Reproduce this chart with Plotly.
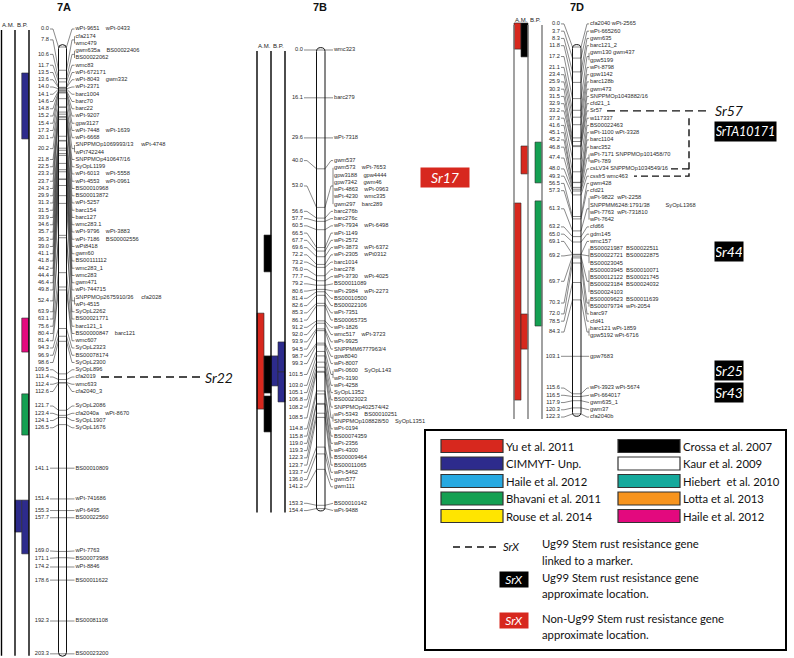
import plotly.graph_objects as go

W, H = 794, 658
GAP_PX = 7.25

# ---------------- chromosome 7A ----------------
pos_7A = [0.0, 7.8, 10.6, 11.7, 13.5, 13.6, 14.0, 14.1, 14.6, 14.8, 15.2, 15.4, 17.3, 20.1, 20.2,
          21.8, 22.5, 23.3, 23.7, 24.3, 29.9, 31.3, 31.5, 33.9, 34.6, 35.7, 36.3, 39.0, 41.1, 41.8,
          44.2, 44.4, 46.4, 49.8, 52.4, 63.9, 63.1, 75.6, 80.4, 81.4, 94.3, 96.9, 98.6, 109.5,
          111.4, 112.4, 112.6, 121.7, 123.4, 124.1, 126.5, 141.1, 151.4, 155.3, 157.7, 169.0,
          171.1, 174.2, 178.6, 192.3, 203.3]
rows_7A = [["wPt-9651    wPt-0433"], ["cfa2174", "wmc479"], ["gwm635a    BS00022406", "BS00022062"],
           ["wmc83"], ["wPt-672171"], ["wPt-8043    gwm332"], ["wPt-2371"], ["barc1004"], ["barc70"],
           ["barc22"], ["wPt-9207"], ["gpw3127"], ["wPt-7448    wPt-1639"], ["wPt-6668"],
           ["SNPPMOp1069993/13     wPt-4748", "wPt742244"], ["SNPPMOp410647/16"], ["SyOpL1199"],
           ["wPt-6013    wPt-5558"], ["wPt-4553    wPt-0961"], ["BS00010968"], ["BS00013872"],
           ["wPt-5257"], ["barc154"], ["barc127"], ["wmc283.1"], ["wPt-9796    wPt-3883"],
           ["wPt-7186    BS00002556"], ["wPt8418"], ["gwm60"], ["BS00111112"], ["wmc283_1"],
           ["wmc283"], ["gwm471"], ["wPt-744715"], ["SNPPMOp2675910/36     cfa2028", "wPt-4515"],
           ["SyOpL2262"], ["BS00021771"], ["barc121_1"], ["BS00000847    barc121"], ["wmc607"],
           ["SyOpL2323"], ["BS00078174"], ["SyOpL2300"], ["SyOpL896"], ["cfa2019"], ["wmc633"],
           ["cfa2040_3"], ["SyOpL2086"], ["cfa2040a    wPt-8670"], ["SyOpL1907"], ["SyOpL1676"],
           ["BS00010809"], ["wPt-741686"], ["wPt-6495"], ["BS00022560"], ["wPt-7763"],
           ["BS00073988"], ["wPt-8846"], ["BS00011622"], ["BS00081108"], ["BS00023200"]]
# (column, sub-column, start cM, end cM, source)
bars_7A = [("B.P.", 1, 8.7, 30.8, "cimmyt"), ("B.P.", 1, 90.8, 102.2, "haile_m"),
           ("B.P.", 1, 116.2, 130.0, "bhavani"), ("B.P.", 0, 151.8, 162.5, "cimmyt"),
           ("B.P.", 1, 151.8, 169.8, "cimmyt")]

# ---------------- chromosome 7B ----------------
pos_7B = [0.0, 16.1, 29.6, 40.0, 53.0, 56.6, 57.7, 60.5, 66.5, 67.7, 69.6, 72.2, 73.2, 76.0, 77.7,
          79.2, 80.6, 81.4, 82.6, 85.3, 86.1, 91.2, 92.0, 93.9, 94.5, 98.7, 99.3, 101.5, 103.0,
          105.1, 106.8, 108.2, 108.5, 114.8, 115.8, 119.0, 119.3, 122.3, 123.7, 133.7, 136.0,
          141.2, 153.3, 154.4]
rows_7B = [["wmc323"], ["barc279"], ["wPt-7318"], ["gwm537"],
           ["gwm573    wPt-7653", "gpw3188    gpw4444", "gpw7342    gwm46", "wPt-4863    wPt-0963",
            "wPt-4230    wmc335", "gwm297    barc289"],
           ["barc276b"], ["barc276c"], ["wPt-7934    wPt-6498"], ["wPt-1149"], ["wPt-2572"],
           ["wPt-3873    wPt-6372"], ["wPt-2305    wPt0312"], ["barc1014"], ["barc278"],
           ["wPt-3730    wPt-4025"], ["BS00011089"], ["wPt-2984    wPt-2273"], ["BS00010500"],
           ["BS00022106"], ["wPt-7351"], ["BS00065735"], ["wPt-1826"], ["wmc517    wPt-3723"],
           ["wPt-9925"], ["SNPPMM6777963/4"], ["gpw8040"], ["wPt-8007"],
           ["wPt-0600    SyOpL143", "wPt-3190"], ["wPt-4258"], ["SyOpL1352"], ["BS00023023"],
           ["SNPPMOp402574/42"], ["wPt-5343    BS00010251", "SNPPMOp108828/50    SyOpL1351"],
           ["wPt-0194"], ["BS00074359"], ["wPt-2356"], ["wPt-4300"], ["BS00009464"],
           ["BS00011065"], ["wPt-5462"], ["gwm577"], ["gwm111"], ["BS00010142"], ["wPt-9488"]]
bars_7B = [("A.M.", 1, 62.3, 74.7, "crossa"), ("A.M.", 0, 88.6, 120.9, "yu"),
           ("A.M.", 1, 103.0, 115.5, "crossa"), ("A.M.", 1, 116.5, 128.6, "crossa"),
           ("B.P.", 0, 103.0, 113.1, "cimmyt"), ("B.P.", 1, 98.3, 108.4, "cimmyt"),
           ("B.P.", 1, 108.4, 118.5, "cimmyt")]

# ---------------- chromosome 7D ----------------
pos_7D = [0.0, 3.7, 8.3, 11.8, 17.2, 21.1, 23.4, 25.9, 30.3, 31.5, 32.9, 33.2, 37.3, 41.6, 45.1,
          45.2, 46.8, 47.4, 48.0, 49.3, 56.5, 57.3, 61.3, 63.2, 65.0, 69.1, 69.2, 69.7, 70.3,
          72.0, 78.5, 84.3, 103.1, 115.6, 116.5, 117.9, 120.3, 122.3]
rows_7D = [["cfa2040 wPt-2565"], ["wPt-665260"], ["gwm635"], ["barc121_2"],
           ["gwm130 gwm437", "gpw5199"], ["wPt-8798"], ["gpw1142"], ["barc128b"], ["gwm473"],
           ["SNPPMOp1043882/16"], ["cfd21_1"], ["Sr57"], ["w117337"], ["BS00022463"],
           ["wPt-1100 wPt-3328"], ["barc1104"], ["barc352"],
           ["wPt-7171 SNPPMOp101458/70", "wPt-789"], ["csLV34 SNPPMOp1034549/16"],
           ["cssfr5 wmc463"], ["gwm428"], ["cfd21"],
           ["wPt-9822  wPt-2258", "SNPPMM6248:1791/38          SyOpL1368", "wPt-7763  wPt-731810",
            "wPt-7642"],
           ["cfd66"], ["gdm145"], ["wmc157"],
           ["BS00021987  BS00022511", "BS00022721  BS00022875", "BS00023045"],
           ["BS00003945  BS00010071", "BS00012122  BS00021745", "BS00023184  BS00024032",
            "BS00024103"],
           ["BS00009623  BS00011639", "BS00079734  wPt-2054"], ["barc97"], ["cfd41"],
           ["barc121 wPt-1859", "gpw5192 wPt-6716"], ["gpw7683"], ["wPt-3923 wPt-5674"],
           ["wPt-664017"], ["gwm635_1"], ["gwm37"], ["cfa2040b"]]
bars_7D = [("A.M.", 0, -8.0, 0.7, "yu"), ("A.M.", 1, -8.0, 3.3, "crossa"),
           ("A.M.", 1, 33.0, 42.3, "yu"), ("A.M.", 0, 52.0, 117.7, "yu"),
           ("A.M.", 1, 89.0, 100.7, "yu"), ("B.P.", 1, 31.7, 45.3, "bhavani"),
           ("B.P.", 1, 51.3, 93.0, "bhavani")]

# ---------------- stem rust genes ----------------
sr_linked = [("Sr22", "7A", "cfa2019"), ("Sr57", "7D", "Sr57")]
sr_boxes = [("Sr17", "7B", 43.0, "non"), ("SrTA10171", "7D", 28.3, "ug99"),
            ("Sr44", "7D", 68.3, "ug99"), ("Sr25", "7D", 107.7, "ug99"), ("Sr43", "7D", 115.0, "ug99")]

# ---------------- legend ----------------
legend_left = ["Yu et al. 2011", "CIMMYT- Unp.", "Haile et al. 2012", "Bhavani et al. 2011", "Rouse et al. 2014"]
legend_left_keys = ["yu", "cimmyt", "haile_b", "bhavani", "rouse"]
legend_right = ["Crossa et al. 2007", "Kaur et al. 2009", "Hiebert  et al. 2010", "Lotta et al. 2013", "Haile et al. 2012"]
legend_right_keys = ["crossa", "kaur", "hiebert", "lotta", "haile_m"]
colors = {"yu": "#d7281e", "cimmyt": "#2d2b8c", "haile_b": "#27a9e1", "bhavani": "#14a052",
          "rouse": "#ffe500", "crossa": "#000000", "kaur": "#ffffff", "hiebert": "#15a99c",
          "lotta": "#f7941d", "haile_m": "#e3097e"}

NB = "\u00a0"
LBL_FONT = dict(family="Liberation Sans, Arial", size=5.7, color="#2a2a2a")
SR_FONT = "Lato, Open Sans, sans-serif"

geo = {
    "7A": dict(k=2.985, y0=47, ax="y", lab_end=49, bend_l=53, cl=58.5, cr=66.5, bend_r=72,
               txt=75.5, cols=[1.5, 15, 29], colc="#000000", tx=64, label_top=29),
    "7B": dict(k=2.97, y0=50, ax="y2", lab_end=303, bend_l=307, cl=316.5, cr=325, bend_r=331,
               txt=334, cols=[257, 271, 285], colc="#000000", tx=320, label_top=0),
    "7D": dict(k=3.0, y0=47, ax="y3", lab_end=560, bend_l=564, cl=572.5, cr=581, bend_r=587,
               txt=590, cols=[514, 528, 542], colc="#7a7a7a", tx=577, label_top=0),
}
data = {"7A": (pos_7A, rows_7A, bars_7A), "7B": (pos_7B, rows_7B, bars_7B), "7D": (pos_7D, rows_7D, bars_7D)}


def spread(targets, owner, pos, gap, ymin):
    """Merge overlapping labels into clusters centred on the mean of their loci positions."""
    def top_of(s, e):
        grp = sorted(set(owner[s:e + 1]))
        centre = sum(pos[i] for i in grp) / len(grp)
        t = centre - gap * (e - s) / 2
        return max(t, ymin) if s == 0 else t

    clusters = []
    for i, t in enumerate(targets):
        clusters.append([i, i, max(t, ymin) if i == 0 else t])
        while len(clusters) > 1:
            a, b = clusters[-2], clusters[-1]
            a_bot = a[2] + gap * (a[1] - a[0])
            if b[2] < a_bot + gap - 1e-9:
                s, e = a[0], b[1]
                clusters[-2:] = [[s, e, top_of(s, e)]]
            else:
                break
    out = []
    for s, e, top in clusters:
        out += [top + gap * (j - s) for j in range(s, e + 1)]
    return out


fig = go.Figure()
shapes, annotations = [], []
row_lookup = {}

for name, g in geo.items():
    pos, rows, bars = data[name]
    k, ax = g["k"], g["ax"]
    gap = GAP_PX / k
    targets, owner, texts = [], [], []
    for i, (p, rs) in enumerate(zip(pos, rows)):
        for r in rs:
            targets.append(p)
            owner.append(i)
            texts.append(r)
    ry = spread(targets, owner, pos, gap, (g["label_top"] - g["y0"]) / k)
    groups = [[] for _ in pos]
    for j, i in enumerate(owner):
        groups[i].append(j)
        row_lookup[(name, texts[j].split()[0])] = ry[j]
    ly = [sum(ry[j] for j in grp) / len(grp) for grp in groups]

    cx, cy, bx, by = [], [], [], []
    brk = g["txt"] - 1.0
    for i, p in enumerate(pos):
        grp = groups[i]
        cx += [g["lab_end"] + 1, g["bend_l"], g["cl"], None]
        cy += [ly[i], ly[i], p, None]
        bx += [g["cl"], g["cr"], None]
        by += [p, p, None]
        ymid = (ry[grp[0]] + ry[grp[-1]]) / 2
        cx += [g["cr"], g["bend_r"], brk, None]
        cy += [p, ymid, ymid, None]
        if len(grp) > 1:
            cx += [brk, brk, None]
            cy += [ry[grp[0]], ry[grp[-1]], None]
    fig.add_trace(go.Scatter(x=cx, y=cy, mode="lines", yaxis=ax, hoverinfo="skip",
                             line=dict(color="#3a3a3a", width=0.6)))
    fig.add_trace(go.Scatter(x=bx, y=by, mode="lines", yaxis=ax, hoverinfo="skip",
                             line=dict(color="#6a6a6a", width=0.8)))
    fig.add_trace(go.Scatter(x=[g["lab_end"]] * len(pos), y=ly, mode="text", yaxis=ax,
                             text=[f"{p:.1f}" for p in pos], textposition="middle left",
                             textfont=LBL_FONT, hoverinfo="skip"))
    fig.add_trace(go.Scatter(x=[g["txt"]] * len(texts), y=ry, mode="text", yaxis=ax,
                             text=[t.replace(" ", NB) for t in texts], textposition="middle right",
                             textfont=LBL_FONT, hoverinfo="skip"))

    # chromosome outline
    top, bot = min(pos) - 0.8, max(pos) + 0.8
    rr = 1.3
    xl, xr = g["cl"], g["cr"]
    xc = (xl + xr) / 2
    path = (f"M {xl},{top + rr} L {xl},{bot - rr} Q {xl},{bot} {xc},{bot} Q {xr},{bot} {xr},{bot - rr} "
            f"L {xr},{top + rr} Q {xr},{top} {xc},{top} Q {xl},{top} {xl},{top + rr} Z")
    shapes.append(dict(type="path", path=path, xref="x", yref=ax, line=dict(color="#111", width=1)))

    # A.M. / B.P. columns
    ltop = ry[0] + 1.0 / k
    lbot = max(ry[-1], max(pos)) + 2.0 / k
    cols = g["cols"]
    colmap = {"A.M.": cols[0], "B.P.": cols[1]}
    for (col, sub, s, e, src) in bars:
        x0 = colmap[col] + sub * (cols[1] - cols[0]) / 2
        x1 = x0 + (cols[1] - cols[0]) / 2
        shapes.append(dict(type="rect", xref="x", yref=ax, x0=x0, x1=x1, y0=s, y1=e,
                           fillcolor=colors[src], line=dict(color="#2a2a2a", width=0.6), layer="below"))
    for cxx in cols:
        shapes.append(dict(type="line", xref="x", yref=ax, x0=cxx, x1=cxx, y0=ltop, y1=lbot,
                           line=dict(color=g["colc"], width=1.4)))
    for lab, xa, xb in (("A.M.", cols[0], cols[1]), ("B.P.", cols[1], cols[2])):
        annotations.append(dict(text=lab, x=(xa + xb) / 2, y=ltop - 5.0 / k, xref="x", yref=ax,
                                showarrow=False, font=dict(family="Liberation Sans, Arial", size=6,
                                                           color="#222")))
    annotations.append(dict(text=f"<b>{name}</b>", x=g["tx"], y=7, xref="x", yref="y4", showarrow=False,
                            font=dict(family="Liberation Sans, Arial", size=11, color="#111")))

# linked genes (dashed)
for gname, ch, marker in sr_linked:
    g = geo[ch]
    yy = row_lookup[(ch, marker)]
    x_start = {"Sr22": 101, "Sr57": 607}[gname]
    x_end = {"Sr22": 201, "Sr57": 711}[gname]
    fig.add_trace(go.Scatter(x=[x_start, x_end], y=[yy, yy], mode="lines", yaxis=g["ax"], hoverinfo="skip",
                             line=dict(color="#111", width=1.4, dash="8px,5px")))
    annotations.append(dict(text=f"<i>{gname}</i>", x=x_end + 2, y=yy, xref="x", yref=g["ax"],
                            xanchor="left", showarrow=False, font=dict(family=SR_FONT, size=14, color="#111")))

# 7D dashed bracket (SrTA10171 region)
gD = geo["7D"]
y_a = row_lookup[("7D", "w117337")]
y_b = row_lookup[("7D", "csLV34")]
y_c = row_lookup[("7D", "cssfr5")]
fig.add_trace(go.Scatter(x=[689, 689, 634, None, 671, 689], y=[y_a, y_c, y_c, None, y_b, y_b],
                         mode="lines", yaxis=gD["ax"], hoverinfo="skip",
                         line=dict(color="#111", width=1.4, dash="7px,4px")))

# boxed genes
for gname, ch, yv, kind in sr_boxes:
    g = geo[ch]
    bg = "#d7281e" if kind == "non" else "#000000"
    wbox = {"Sr17": 48, "SrTA10171": 61}.get(gname, 28)
    hbox = 19
    fsize = 12.5 if gname == "SrTA10171" else 14
    if gname == "Sr17":
        xa, xx = "center", 445
    else:
        xa, xx = "left", 714
    annotations.append(dict(text=f"<i>{gname}</i>", x=xx, y=yv, xref="x", yref=g["ax"], xanchor=xa,
                            showarrow=False, bgcolor=bg, width=wbox - 2, height=hbox - 2, borderpad=1,
                            font=dict(family=SR_FONT, size=fsize, color="#ffffff")))

# legend box
shapes.append(dict(type="rect", xref="x", yref="y4", x0=425, x1=786, y0=430, y1=650,
                   line=dict(color="#000", width=2), fillcolor="rgba(0,0,0,0)"))
LEG_FONT = dict(family=SR_FONT, size=11.3, color="#111")
for col_i, (labels, keys) in enumerate(((legend_left, legend_left_keys), (legend_right, legend_right_keys))):
    sx0 = 441 if col_i == 0 else 618
    for i, (lab, key) in enumerate(zip(labels, keys)):
        yc = 446 + 17.5 * i
        shapes.append(dict(type="rect", xref="x", yref="y4", x0=sx0, x1=sx0 + 62, y0=yc - 6.5, y1=yc + 6.5,
                           fillcolor=colors[key], line=dict(color="#333", width=1.2)))
        annotations.append(dict(text=lab, x=sx0 + 63, y=yc, xref="x", yref="y4", xanchor="left",
                                showarrow=False, font=LEG_FONT))

fig.add_trace(go.Scatter(x=[453, 499], y=[547, 547], mode="lines", yaxis="y4", hoverinfo="skip",
                         line=dict(color="#111", width=1.3, dash="7px,5px")))
annotations.append(dict(text="<i>SrX</i>", x=501, y=546, xref="x", yref="y4", xanchor="left",
                        showarrow=False, font=LEG_FONT))
legend_desc = [("Ug99 Stem rust resistance gene", 543), ("linked to a marker.", 560),
               ("Ug99 Stem rust resistance gene", 577), ("approximate location.", 593),
               ("Non-Ug99 Stem rust resistance gene", 618), ("approximate location.", 634)]
for txt, yy in legend_desc:
    annotations.append(dict(text=txt, x=540, y=yy, xref="x", yref="y4", xanchor="left",
                            showarrow=False, font=LEG_FONT))
for bg, yy in (("#000000", 579.5), ("#d7281e", 620.5)):
    annotations.append(dict(text="<i>SrX</i>", x=514, y=yy, xref="x", yref="y4", showarrow=False,
                            bgcolor=bg, width=26, height=13, borderpad=1,
                            font=dict(family=SR_FONT, size=12, color="#fff")))

yax = {}
for name, g in geo.items():
    yax[g["ax"]] = [(H - g["y0"]) / g["k"], -g["y0"] / g["k"]]

fig.update_layout(
    width=W, height=H, autosize=False, margin=dict(l=0, r=0, t=0, b=0),
    paper_bgcolor="white", plot_bgcolor="white", showlegend=False,
    xaxis=dict(range=[0, W], visible=False, fixedrange=True),
    yaxis=dict(range=yax["y"], visible=False, fixedrange=True),
    yaxis2=dict(range=yax["y2"], visible=False, overlaying="y", fixedrange=True),
    yaxis3=dict(range=yax["y3"], visible=False, overlaying="y", fixedrange=True),
    yaxis4=dict(range=[H, 0], visible=False, overlaying="y", fixedrange=True),
    shapes=shapes, annotations=annotations,
)
fig.write_html("out.html", config={"displayModeBar": False},
               post_script="document.body.style.margin='0';")
